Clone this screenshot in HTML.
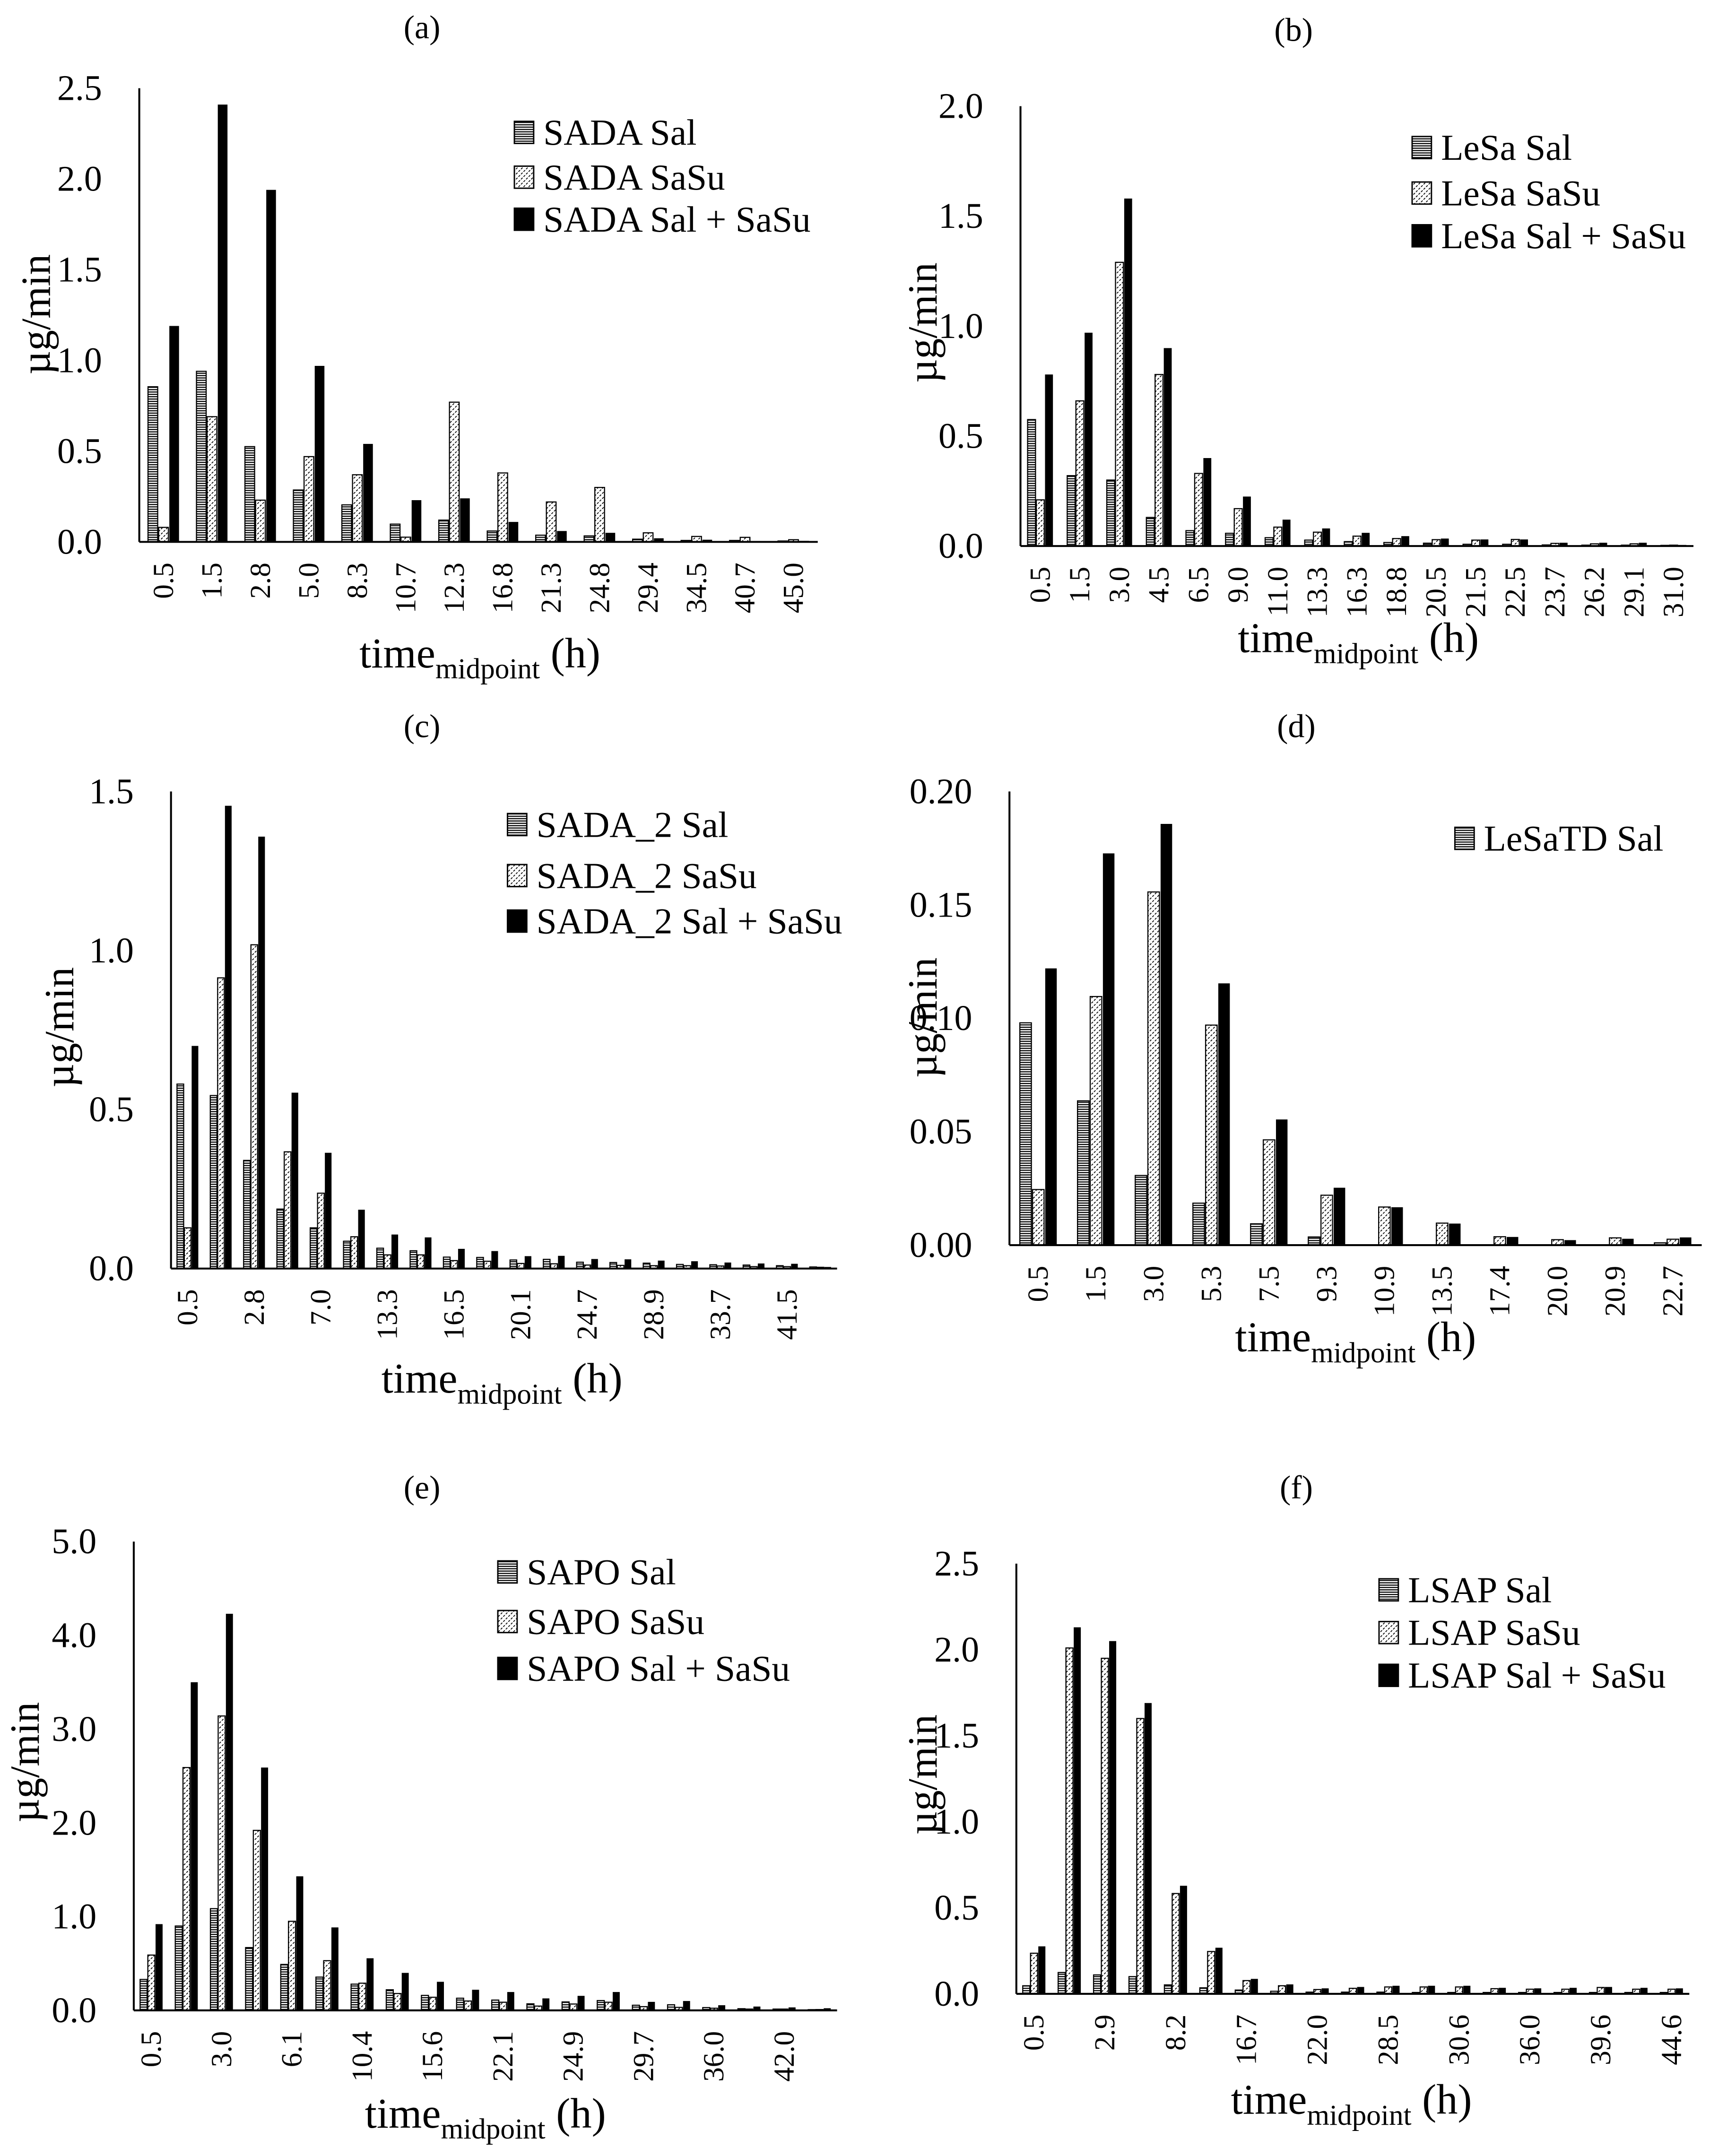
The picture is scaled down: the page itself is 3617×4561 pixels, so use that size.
<!DOCTYPE html>
<html><head><meta charset="utf-8"><title>Release rate charts</title>
<style>
html,body{margin:0;padding:0;background:#fff;}
svg{display:block;}
text{font-family:"Liberation Serif",serif;fill:#000;}
</style></head>
<body>
<svg id="fig" xmlns="http://www.w3.org/2000/svg" width="3617" height="4561" viewBox="0 0 1240 1563.6" preserveAspectRatio="none">
<defs>
<pattern id="hstripe" patternUnits="userSpaceOnUse" width="4" height="1.7">
<rect width="4" height="1.7" fill="#fff"/><rect y="0" width="4" height="0.8" fill="#000"/>
</pattern>
<pattern id="diag" patternUnits="userSpaceOnUse" width="2.6" height="2.6" patternTransform="rotate(45)">
<rect width="2.6" height="2.6" fill="#fff"/><rect x="0" y="0" width="0.6" height="1.6" fill="#000"/>
</pattern>
</defs>
</svg>
<script>
// ---- Panel (a) data ----
const catsA = ["0.5","1.5","2.8","5.0","8.3","10.7","12.3","16.8","21.3","24.8","29.4","34.5","40.7","45.0"];
const salA = [0.855,0.94,0.525,0.286,0.204,0.098,0.12,0.06,0.037,0.033,0.015,0.008,0.008,0.005];
const sasuA = [0.08,0.69,0.23,0.47,0.37,0.026,0.77,0.38,0.22,0.30,0.05,0.03,0.025,0.012];
const totA = [1.19,2.41,1.94,0.97,0.54,0.23,0.24,0.11,0.06,0.05,0.02,0.012,0.005,0.006];
const ticksA = ["0.0","0.5","1.0","1.5","2.0","2.5"];
// ---- Panel (b) data ----
const catsB = ["0.5","1.5","3.0","4.5","6.5","9.0","11.0","13.3","16.3","18.8","20.5","21.5","22.5","23.7","26.2","29.1","31.0"];
const salB = [0.575,0.32,0.30,0.13,0.07,0.058,0.038,0.027,0.02,0.016,0.013,0.008,0.008,0.005,0.004,0.004,0.003];
const sasuB = [0.21,0.66,1.29,0.78,0.33,0.17,0.086,0.063,0.045,0.034,0.029,0.027,0.03,0.012,0.01,0.01,0.004];
const totB = [0.78,0.97,1.58,0.90,0.40,0.225,0.12,0.08,0.06,0.045,0.034,0.03,0.03,0.015,0.015,0.015,0.005];
const ticksB = ["0.0","0.5","1.0","1.5","2.0"];
// ---- Panel (c) data ----
const catsC = ["0.5","","2.8","","7.0","","13.3","","16.5","","20.1","","24.7","","28.9","","33.7","","41.5",""];
const salC = [0.58,0.544,0.34,0.187,0.128,0.086,0.064,0.056,0.036,0.035,0.027,0.029,0.02,0.019,0.017,0.013,0.012,0.011,0.009,0.005];
const sasuC = [0.128,0.914,1.018,0.367,0.237,0.10,0.043,0.043,0.025,0.023,0.016,0.015,0.011,0.01,0.009,0.009,0.008,0.006,0.006,0.004];
const totC = [0.70,1.455,1.358,0.553,0.364,0.185,0.107,0.098,0.062,0.055,0.039,0.04,0.03,0.029,0.025,0.023,0.019,0.016,0.015,0.005];
const ticksC = ["0.0","0.5","1.0","1.5"];
// ---- Panel (d) data ----
const catsD = ["0.5","1.5","3.0","5.3","7.5","9.3","10.9","13.5","17.4","20.0","20.9","22.7"];
const salD = [0.098,0.0636,0.0307,0.0185,0.0094,0.0036,0,0,0,0,0,0.001];
const sasuD = [0.0245,0.1096,0.1557,0.097,0.0464,0.022,0.0168,0.0097,0.0037,0.0024,0.0032,0.0026];
const totD = [0.122,0.1727,0.1857,0.1154,0.0554,0.0253,0.0167,0.0095,0.0036,0.0022,0.0028,0.0034];
const ticksD = ["0.00","0.05","0.10","0.15","0.20"];
// ---- Panel (e) data ----
const catsE = ["0.5","","3.0","","6.1","","10.4","","15.6","","22.1","","24.9","","29.7","","36.0","","42.0",""];
const salE = [0.33,0.9,1.085,0.67,0.49,0.355,0.28,0.22,0.16,0.13,0.11,0.07,0.09,0.105,0.055,0.06,0.03,0.018,0.014,0.008];
const sasuE = [0.59,2.59,3.14,1.92,0.95,0.53,0.29,0.18,0.14,0.10,0.087,0.046,0.068,0.087,0.04,0.032,0.023,0.014,0.014,0.009];
const totE = [0.92,3.50,4.23,2.59,1.43,0.885,0.556,0.40,0.305,0.22,0.196,0.128,0.155,0.196,0.091,0.10,0.055,0.041,0.032,0.023];
const ticksE = ["0.0","1.0","2.0","3.0","4.0","5.0"];
// ---- Panel (f) data ----
const catsF = ["0.5","","2.9","","8.2","","16.7","","22.0","","28.5","","30.6","","36.0","","39.6","","44.6"];
const salF = [0.047,0.124,0.11,0.10,0.052,0.035,0.022,0.015,0.01,0.01,0.01,0.008,0.008,0.008,0.008,0.008,0.008,0.008,0.008];
const sasuF = [0.236,2.01,1.95,1.60,0.583,0.246,0.077,0.047,0.025,0.032,0.04,0.04,0.04,0.03,0.027,0.027,0.037,0.027,0.027];
const totF = [0.276,2.13,2.05,1.69,0.628,0.268,0.087,0.055,0.032,0.04,0.047,0.047,0.047,0.035,0.032,0.035,0.04,0.035,0.032];
const ticksF = ["0.0","0.5","1.0","1.5","2.0","2.5"];

const NS = "http://www.w3.org/2000/svg";
const svg = document.getElementById("fig");
function mk(tag, attrs, parent) {
  const e = document.createElementNS(NS, tag);
  for (const k in attrs) e.setAttribute(k, attrs[k]);
  (parent || svg).appendChild(e);
  return e;
}

const panels = [
  {id:"a", title:"(a)", tx:306, ty:20, x0:101, x1:593, base:393, top:64, cats:catsA, sal:salA, sasu:sasuA, tot:totA, ticks:ticksA,
   names:["SADA Sal","SADA SaSu","SADA Sal + SaSu"], lx:373, ly:[96,128.5,159], ylx:26, yly:228, xlx:348, xly:484},
  {id:"b", title:"(b)", tx:938, ty:22, x0:740, x1:1228, base:396, top:77, cats:catsB, sal:salB, sasu:sasuB, tot:totB, ticks:ticksB,
   names:["LeSa Sal","LeSa SaSu","LeSa Sal + SaSu"], lx:1024, ly:[107,140,171], ylx:669, yly:234, xlx:985, xly:473},
  {id:"c", title:"(c)", tx:306, ty:527, x0:124, x1:607, base:920, top:574, cats:catsC, sal:salC, sasu:sasuC, tot:totC, ticks:ticksC,
   names:["SADA_2 Sal","SADA_2 SaSu","SADA_2 Sal + SaSu"], lx:368, ly:[598,635,668], ylx:43, yly:745, xlx:364, xly:1010},
  {id:"d", title:"(d)", tx:940, ty:527, x0:732, x1:1234, base:903, top:574, cats:catsD, sal:salD, sasu:sasuD, tot:totD, ticks:ticksD,
   names:["LeSaTD Sal"], lx:1055, ly:[608], ylx:669, yly:738, xlx:983, xly:980},
  {id:"e", title:"(e)", tx:306, ty:1079, x0:97, x1:607, base:1458, top:1118, cats:catsE, sal:salE, sasu:sasuE, tot:totE, ticks:ticksE,
   names:["SAPO Sal","SAPO SaSu","SAPO Sal + SaSu"], lx:361, ly:[1140,1176,1210], ylx:18, yly:1278, xlx:352, xly:1543},
  {id:"f", title:"(f)", tx:940, ty:1079, x0:737, x1:1225, base:1446, top:1134, cats:catsF, sal:salF, sasu:sasuF, tot:totF, ticks:ticksF,
   names:["LSAP Sal","LSAP SaSu","LSAP Sal + SaSu"], lx:1000, ly:[1153,1184,1215], ylx:669, yly:1287, xlx:980, xly:1533}
];
const fills = ["url(#hstripe)","url(#diag)","#000"];
const offs = [-0.22, 0, 0.22];

panels.forEach(p => {
  const g = mk("g", {});
  
  
  const maxV = parseFloat(p.ticks[p.ticks.length-1]);
  const yS = v => p.base - (v / maxV) * (p.base - p.top);
  const n = p.cats.length;
  const cw = (p.x1 - p.x0) / n;
  const xS = i => p.x0 + cw * (i + 0.5);

  const t = mk("text", {x:p.tx, y:p.ty, "text-anchor":"middle", "dominant-baseline":"central", "font-size":24}, g);
  t.textContent = p.title;
  
  

  [p.sal, p.sasu, p.tot].forEach((arr, s) => {
    arr.forEach((v, i) => {
      const bw = cw * 0.2;
      const cx = xS(i) + offs[s] * cw;
      const y = yS(v);
      const r = mk("rect", {x:cx - bw/2, y:y, width:bw, height:Math.max(0, p.base - y), fill:fills[s],
        stroke:"#000", "stroke-width": s === 2 ? 0 : 0.8}, g);
      
      
    });
  });

  const ya = mk("line", {x1:p.x0, y1:p.top, x2:p.x0, y2:p.base, stroke:"#000", "stroke-width":1.4}, g);
  
  
  const xa = mk("line", {x1:p.x0, y1:p.base, x2:p.x1, y2:p.base, stroke:"#000", "stroke-width":1.4}, g);
  
  

  p.ticks.forEach(tk => {
    const tl = mk("text", {x:p.x0 - 27, y:yS(parseFloat(tk)), "text-anchor":"end", "dominant-baseline":"central", "font-size":26}, g);
    tl.textContent = tk;
    
    
  });

  p.cats.forEach((c, i) => {
    if (!c) return;
    const xx = xS(i), yy = p.base + 15;
    const cl = mk("text", {x:xx, y:yy, "text-anchor":"end", "dominant-baseline":"central", "font-size":21,
      transform:"rotate(-90 " + xx + " " + yy + ")"}, g);
    cl.textContent = c;
    
    
  });

  const yl = mk("text", {x:p.ylx, y:p.yly, "text-anchor":"middle", "dominant-baseline":"central", "font-size":30,
    transform:"rotate(-90 " + p.ylx + " " + p.yly + ")"}, g);
  yl.textContent = "µg/min";
  
  

  const xl = mk("text", {x:p.xlx, y:p.xly, "text-anchor":"middle", "font-size":31}, g);
  
  
  const s1 = mk("tspan", {}, xl); s1.textContent = "time";
  const s2 = mk("tspan", {dy:8, "font-size":21}, xl); s2.textContent = "midpoint";
  const s3 = mk("tspan", {dy:-8}, xl); s3.textContent = " (h)";

  p.names.forEach((nm, k) => {
    const ly = p.ly[k];
    const sw = mk("rect", {x:p.lx, y:ly - 8, width:14, height:16, fill:fills[k], stroke:"#000", "stroke-width":1}, g);
    
    
    const lt = mk("text", {x:p.lx + 21, y:ly, "dominant-baseline":"central", "font-size":26.5}, g);
    lt.textContent = nm;
    
    
  });
});
</script>
</body></html>
